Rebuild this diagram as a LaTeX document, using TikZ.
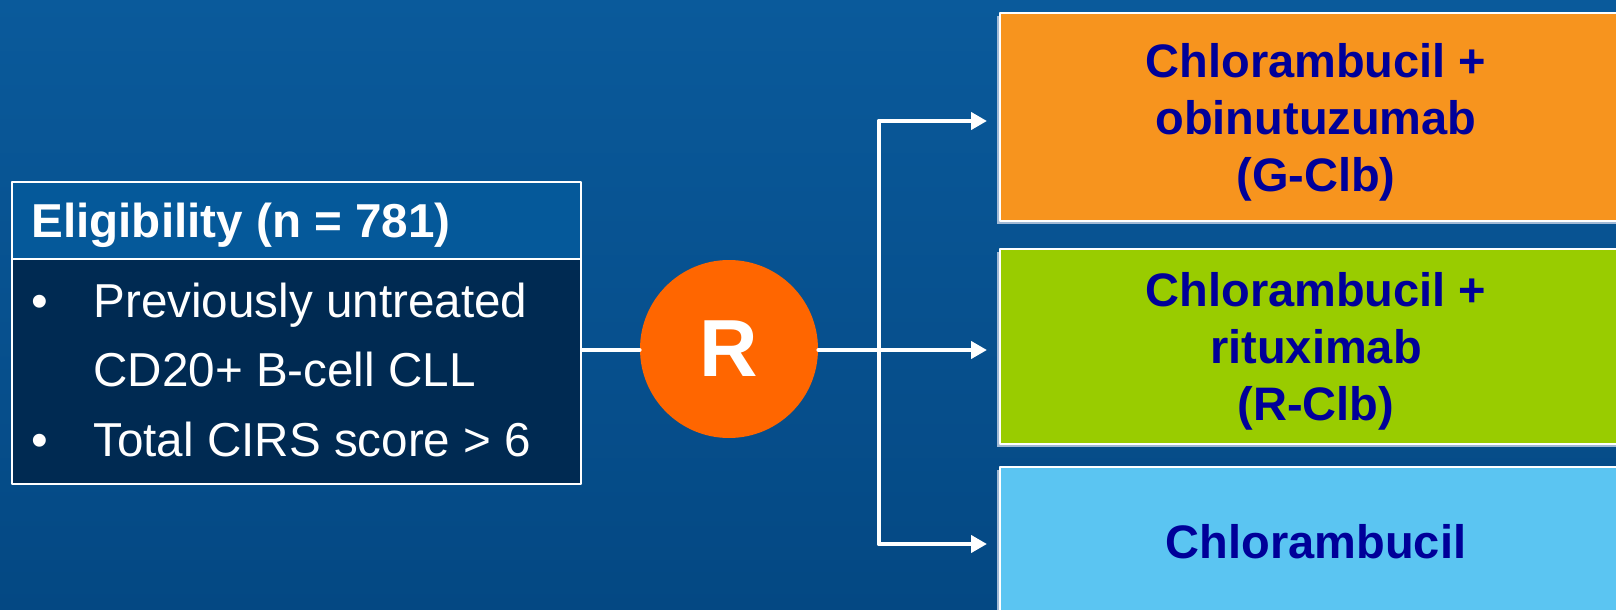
\documentclass[tikz,border=0pt]{standalone}
\usepackage{fontspec}
\setmainfont{Liberation Sans}
\usetikzlibrary{arrows.meta,shadows}
\definecolor{bgtop}{HTML}{0A5A9B}
\definecolor{bgmid}{HTML}{0061A5}
\definecolor{bgbot}{HTML}{044883}
\definecolor{hdrblue}{HTML}{05599A}
\definecolor{navy}{HTML}{002A52}
\definecolor{rorange}{HTML}{FF6600}
\definecolor{gclbc}{HTML}{F7941E}
\definecolor{rclbc}{HTML}{99CC00}
\definecolor{clbc}{HTML}{5BC5F2}
\definecolor{armtext}{HTML}{000099}
\definecolor{shadowc}{HTML}{B4C6DD}
\begin{document}
\begin{tikzpicture}[x=0.5pt,y=-0.5pt,line cap=round,line join=round,
  panel/.style={draw=white,line width=1pt,anchor=north west,minimum width=284.5pt,inner sep=0pt},
  crittext/.style={anchor=base west,inner sep=0pt,text=white,font=\fontsize{23.8}{28}\selectfont},
  armbox/.style={draw=white,line width=1pt,minimum width=316pt,inner sep=0pt,align=center,
    text=armtext,font=\fontsize{23.5}{28.5}\selectfont\bfseries,text depth=0pt,
    drop shadow={shadow xshift=-1.5pt,shadow yshift=-1.5pt,fill=shadowc,opacity=0.9}},
  link/.style={draw=white,line width=2pt},
  arr/.style={link,-{Triangle[length=8pt,width=8.5pt]},shorten >=6pt}]
  \useasboundingbox (0,0) rectangle (1616,610);
  \shade[top color=bgtop,middle color=bgmid,bottom color=bgbot] (0,0) rectangle (1616,610);

  \node[panel,fill=hdrblue,minimum height=38.5pt] (elig) at (11,181) {};
  \node[panel,fill=navy,minimum height=112.5pt] (crit) at (11,258) {};
  \node[crittext,font=\fontsize{23.8}{28}\selectfont\bfseries] (eligtxt) at (31,237) {Eligibility (n = 781)};
  \node[crittext,anchor=base] (bul1) at (40,317) {\textbullet};
  \node[crittext] (crit1) at (93,317) {Previously untreated};
  \node[crittext] (crit2) at (93,386) {CD20+ B-cell CLL};
  \node[crittext,anchor=base] (bul2) at (40,456) {\textbullet};
  \node[crittext] (crit3) at (93,456) {Total CIRS score > 6};

  \node[circle,fill=rorange,minimum size=89pt,inner sep=0pt,text=white,
    font=\fontsize{40.5}{48}\selectfont\bfseries] (rand) at (729,349) {R};

  \node[armbox,fill=gclbc,minimum height=104pt] (gclb) at (1316,117) {Chlorambucil +\\obinutuzumab\\(G-Clb)};
  \node[armbox,fill=rclbc,minimum height=97.5pt] (rclb) at (1316,346.5) {Chlorambucil +\\rituximab\\(R-Clb)};
  \node[armbox,fill=clbc,minimum height=74pt] (clb) at (1316,541) {Chlorambucil};

  \coordinate (split) at (879,350);
  \coordinate (splittop) at (879,121);
  \coordinate (splitbot) at (879,544);
  \draw[link] (crit.east |- split) -- (rand.west |- split);
  \draw[link] (rand.east |- split) -- (split);
  \draw[link] (splittop) -- (splitbot);
  \draw[arr] (splittop) -- (splittop -| gclb.west);
  \draw[arr] (split) -- (split -| rclb.west);
  \draw[arr] (splitbot) -- (splitbot -| clb.west);
\end{tikzpicture}
\end{document}
